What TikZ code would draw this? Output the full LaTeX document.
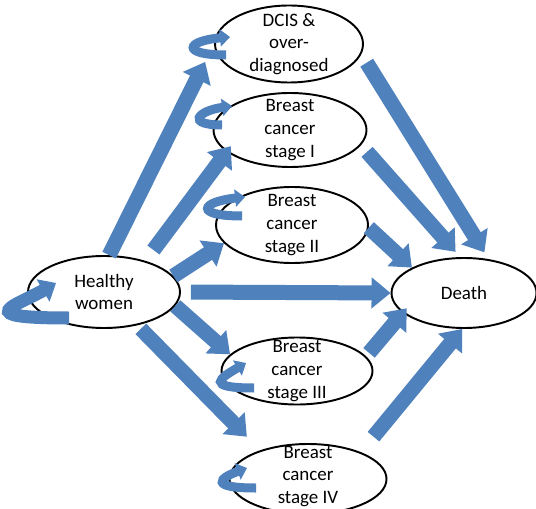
\documentclass[tikz,border=0pt]{standalone}
\usepackage{fontspec}
\setmainfont{Carlito}
\usepackage{xcolor}
\usetikzlibrary{arrows.meta,positioning,shapes.geometric}
\definecolor{arrowblue}{HTML}{4F81BD}
\begin{document}
\begin{tikzpicture}[
    state/.style={ellipse,draw,line width=1.1pt,fill=white},
    lbl/.style={align=center,font=\fontsize{10.8}{13}\selectfont},
    flow/.style={draw=arrowblue,line width=0.3cm,-{Triangle[width=0.6cm,length=0.38cm]}},
    loopy/.style={draw=arrowblue,line width=0.18cm,-{Triangle[width=0.34cm,length=0.2cm]}}]
    \useasboundingbox (0,0) rectangle (10.72,10.16);

    % States
    \node[state,minimum width=3.04cm,minimum height=1.44cm] (hw) at (2.08,4.32) {};
    \node[lbl] at (hw) {Healthy\\women};
    \node[state,minimum width=2.96cm,minimum height=1.54cm] (dcis) at (5.78,9.28) {};
    \node[lbl] at (dcis) {DCIS \&\\over-\\diagnosed};
    \node[state,minimum width=3.06cm,minimum height=1.48cm] (st1) at (5.80,7.56) {};
    \node[lbl] at (st1) {Breast\\cancer\\stage I};
    \node[state,minimum width=3.04cm,minimum height=1.52cm] (st2) at (5.84,5.66) {};
    \node[lbl] at (st2) {Breast\\cancer\\stage II};
    \node[state,minimum width=3.02cm,minimum height=1.34cm] (st3) at (5.94,2.74) {};
    \node[lbl] at (st3) {Breast\\cancer\\stage III};
    \node[state,minimum width=3.14cm,minimum height=1.40cm] (st4) at (6.16,0.58) {};
    \node[lbl] at ([yshift=0.05cm]st4) {Breast\\cancer\\stage IV};
    \node[state,minimum width=2.90cm,minimum height=1.40cm] (death) at (9.28,4.30) {};
    \node[lbl] at (death) {Death};

    % Transitions out of healthy women
    \draw[flow,shorten >=0.4cm] (hw.82) -- (dcis.west);
    \draw[flow,shorten <=0.27cm,shorten >=-0.14cm] (hw.37) -- (st1.199);
    \draw[flow] (hw.13) -- (st2.195);
    \draw[flow,shorten <=0.2cm] (hw.east) -- (death.west);
    \draw[flow] (hw.349) -- (st3.166);
    \draw[flow,shorten <=0.1cm,shorten >=0.38cm] (hw.315) -- (st4.149);

    % Transitions to death
    \draw[flow,shorten <=0.2cm,shorten >=0.16cm] (dcis.352) -- (death.54);
    \draw[flow,shorten <=0.18cm,shorten >=0.14cm] (st1.348) -- (death.96);
    \draw[flow] (st2.358) -- (death.154);
    \draw[flow,shorten <=0.09cm,shorten >=-0.12cm] (st3.12) -- (death.198);
    \draw[flow,shorten <=0.4cm] (st4.27) -- (death.267);

    % Staying in the same state
    \draw[loopy,line width=0.26cm,-{Triangle[width=0.5cm,length=0.3cm]}]
        ([shift={(0.84,-0.52)}]hw.west) .. controls +(-2.0,0) and +(210:0.9) .. ([shift={(0.58,0.18)}]hw.west);
    \draw[loopy] ([shift={(0.24,-0.22)}]dcis.west) .. controls +(-0.9,0) and +(-0.9,-0.08) .. ([shift={(0.32,0.14)}]dcis.west);
    \draw[loopy] ([shift={(0.19,0.10)}]st1.west) .. controls +(-0.72,0) and +(-0.7,-0.1) .. ([shift={(0.39,0.48)}]st1.west);
    \draw[loopy] ([shift={(0.54,0.18)}]st2.west) .. controls +(-0.96,0) and +(-0.9,-0.1) .. ([shift={(0.60,0.56)}]st2.west);
    \draw[loopy] ([shift={(0.67,-0.34)}]st3.west) .. controls +(-1.0,0) and +(210:0.6) .. ([shift={(0.51,0.16)}]st3.west);
    \draw[loopy] ([shift={(0.55,-0.18)}]st4.west) .. controls +(-0.94,0) and +(200:0.6) .. ([shift={(0.37,0.22)}]st4.west);
\end{tikzpicture}
\end{document}
